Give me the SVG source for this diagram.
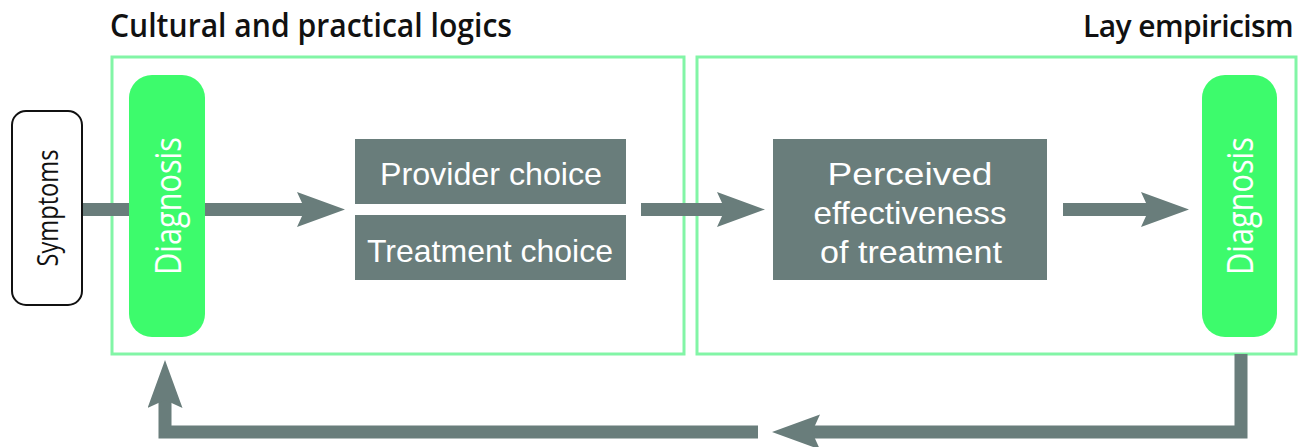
<svg xmlns="http://www.w3.org/2000/svg" width="1299" height="447" viewBox="0 0 1299 447">
<style>
.frame{fill:none;stroke:#82f5a6;stroke-width:3}
.diag{fill:#3dfb6c}
.gbox{fill:#697d7b}
.conn{fill:none;stroke:#697d7b;stroke-width:13}
.t{font-family:"Open Sans","Noto Sans","Liberation Sans",sans-serif}
.lt{font-family:"Liberation Sans","Open Sans",sans-serif}
.title{font-size:33px;fill:#111;font-weight:600}
.w{fill:#ffffff;font-size:32px}
.dt{fill:#ffffff;font-size:37px}
.st{fill:#111;font-size:29px}
</style>
<defs>
<marker id="ah" markerUnits="userSpaceOnUse" markerWidth="50" markerHeight="36" refX="8" refY="17.5" orient="auto" viewBox="0 0 50 36">
<path d="M0,0 L48,17.5 L0,35 L8,17.5 Z" fill="#697d7b"/>
</marker>
</defs>
<text class="t title" x="110" y="37" textLength="402" lengthAdjust="spacingAndGlyphs">Cultural and practical logics</text>
<text class="t title" x="1293" y="37" text-anchor="end" style="font-size:30px;letter-spacing:-0.6px">Lay empiricism</text>
<rect class="frame" x="112" y="57" width="572" height="297"/>
<rect class="frame" x="697" y="57" width="599" height="297"/>
<g id="connectors">
<path class="conn" d="M82,209.5 H305" marker-end="url(#ah)"/>
<path class="conn" d="M641,209.5 H725" marker-end="url(#ah)"/>
<path class="conn" d="M1063,209.5 H1149" marker-end="url(#ah)"/>
<path class="conn" d="M1241,354 V432 H812" marker-end="url(#ah)"/>
<path class="conn" d="M758,432 H165 V400" marker-end="url(#ah)"/>
</g>
<g id="symptoms">
<rect x="12" y="111" width="70" height="194" rx="14" fill="#ffffff" stroke="#111" stroke-width="2"/>
<text class="t st" transform="translate(58,208) rotate(-90)" text-anchor="middle" textLength="117" lengthAdjust="spacingAndGlyphs">Symptoms</text>
</g>
<g id="diagnosis-left">
<rect class="diag" x="129" y="75" width="76" height="262" rx="23"/>
<text class="t dt" transform="translate(181,206) rotate(-90)" text-anchor="middle" textLength="138" lengthAdjust="spacingAndGlyphs">Diagnosis</text>
</g>
<g id="provider-choice">
<rect class="gbox" x="355" y="139" width="271" height="65"/>
<text class="lt w" x="491" y="185" text-anchor="middle" textLength="222" lengthAdjust="spacingAndGlyphs">Provider choice</text>
</g>
<g id="treatment-choice">
<rect class="gbox" x="355" y="215" width="271" height="65"/>
<text class="lt w" x="490" y="262" text-anchor="middle" textLength="246" lengthAdjust="spacingAndGlyphs">Treatment choice</text>
</g>
<g id="perceived-effectiveness">
<rect class="gbox" x="773" y="139" width="274" height="141"/>
<text class="lt w" x="910" y="185" text-anchor="middle" textLength="165" lengthAdjust="spacingAndGlyphs">Perceived</text>
<text class="lt w" x="910" y="224" text-anchor="middle" textLength="193" lengthAdjust="spacingAndGlyphs">effectiveness</text>
<text class="lt w" x="911" y="263" text-anchor="middle" textLength="182" lengthAdjust="spacingAndGlyphs">of treatment</text>
</g>
<g id="diagnosis-right">
<rect class="diag" x="1202" y="75" width="75" height="262" rx="23"/>
<text class="t dt" transform="translate(1253,206) rotate(-90)" text-anchor="middle" textLength="138" lengthAdjust="spacingAndGlyphs">Diagnosis</text>
</g>
</svg>
